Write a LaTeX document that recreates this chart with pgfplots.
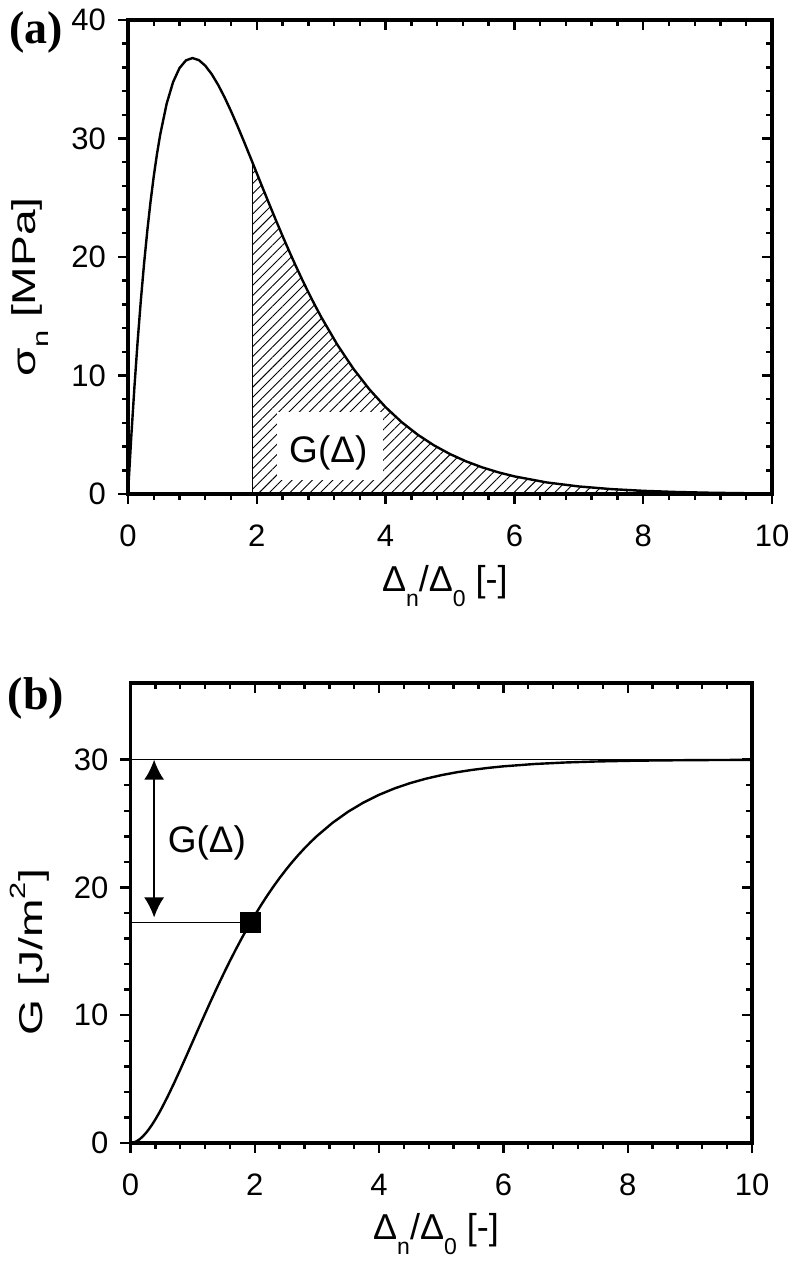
\documentclass[border=0pt]{standalone}
\usepackage{fontspec}
\setmainfont{Liberation Sans}
\newfontfamily\panelfont{Liberation Serif}
\newfontfamily\ylabfont[FakeStretch=1.4]{Liberation Sans}
\usepackage{pgfplots}
\pgfplotsset{compat=1.18}
\usetikzlibrary{patterns.meta,arrows.meta}
\newcommand{\sub}[1]{\raisebox{-7.5pt}{\fontsize{11.5}{12}\selectfont #1}}
\newcommand{\ysub}[1]{\raisebox{-6.5pt}{\fontsize{11}{12}\selectfont #1}}
\newcommand{\ysup}[1]{\raisebox{8.5pt}{\fontsize{11}{12}\selectfont #1}}

\pgfplotsset{
  base/.style={
    scale only axis, anchor=south west, clip=false,
    xmin=0, xmax=10, xtick={0,2,...,10}, minor x tick num=4,
    minor y tick num=4,
    axis line style={line width=1.6pt},
    major tick length=5pt, minor tick length=3pt,
    every tick/.style={line width=1.2pt, black},
    tick label style={font=\fontsize{15.5}{18}\selectfont},
    xticklabel style={yshift=-7pt},
    yticklabel style={xshift=-2.5pt},
    /pgf/number format/assume math mode=true,
    xlabel style={font=\fontsize{18}{20}\selectfont},
    ylabel style={font=\ylabfont\fontsize{16.5}{20}\selectfont},
  },
}

\begin{document}
\begin{tikzpicture}
\path[use as bounding box] (0,0) rectangle (395pt,-630.5pt);

% ---------------- panel (a)
\begin{axis}[base, at={(64pt,-247pt)}, width=322pt, height=237pt,
  ymin=0, ymax=40, ytick={0,10,...,40},
  tick pos=left, tick align=outside,
  xlabel={Δ\sub{n}/Δ\sub{0} [-]},
  ylabel={σ\ysub{n} [MPa]},
  xlabel style={at={(axis description cs:0.492,-0.194)}, anchor=center},
  ylabel style={at={(axis description cs:-0.152,0.437)}, anchor=center},
]
\addplot[draw=none, pattern={Lines[angle=45,distance=3.6pt,line width=0.45pt]}] coordinates {
(1.93,0) (1.93,28.014) (2.0,27.067) (2.1,25.716) (2.2,24.377) (2.3,23.060) (2.4,21.772)
(2.5,20.521) (2.6,19.311) (2.7,18.146) (2.8,17.027) (2.9,15.957) (3.0,14.936)
(3.25,12.602) (3.5,10.569) (3.75,8.819) (4.0,7.326) (4.25,6.062) (4.5,4.999)
(4.75,4.110) (5.0,3.369) (5.25,2.755) (5.5,2.248) (5.75,1.830) (6.0,1.487)
(6.5,0.977) (7.0,0.638) (7.5,0.415) (8.0,0.268) (8.5,0.173) (9.0,0.111)
(9.5,0.071) (10.0,0.045) (10.0,0)} -- cycle;
\fill[white] (axis cs:2.31,1.18) rectangle (axis cs:3.96,6.92);
\node[font=\fontsize{18.5}{22}\selectfont] at (axis cs:3.11,3.45) {G(Δ)};
\addplot[line width=0.6pt] coordinates {(1.93,0) (1.93,28.014)};
\addplot[line width=1.2pt] coordinates {
(0,0) (0.05,4.756) (0.1,9.048) (0.15,12.911) (0.2,16.375) (0.25,19.470) (0.3,22.225)
(0.35,24.664) (0.4,26.813) (0.45,28.693) (0.5,30.327) (0.6,32.929) (0.7,34.761)
(0.8,35.946) (0.9,36.591) (1.0,36.788) (1.1,36.616) (1.2,36.143) (1.3,35.429)
(1.4,34.524) (1.5,33.470) (1.6,32.304) (1.7,31.056) (1.8,29.754) (1.9,28.418)
(2.0,27.067) (2.1,25.716) (2.2,24.377) (2.3,23.060) (2.4,21.772) (2.5,20.521)
(2.6,19.311) (2.7,18.146) (2.8,17.027) (2.9,15.957) (3.0,14.936) (3.25,12.602)
(3.5,10.569) (3.75,8.819) (4.0,7.326) (4.25,6.062) (4.5,4.999) (4.75,4.110)
(5.0,3.369) (5.25,2.755) (5.5,2.248) (5.75,1.830) (6.0,1.487) (6.5,0.977)
(7.0,0.638) (7.5,0.415) (8.0,0.268) (8.5,0.173) (9.0,0.111) (9.5,0.071) (10.0,0.045)};
\end{axis}
\begin{axis}[base, at={(64pt,-247pt)}, width=322pt, height=237pt,
  ymin=0, ymax=40, ytick={0,10,...,40},
  tick pos=right, tick align=inside,
  xticklabels={}, yticklabels={}, axis line style={draw=none}]
\end{axis}

% ---------------- panel (b)
\begin{axis}[base, at={(65.25pt,-571.5pt)}, width=310.75pt, height=230pt,
  ymin=0, ymax=36, ytick={0,10,20,30},
  tick pos=left, tick align=outside,
  xlabel={Δ\sub{n}/Δ\sub{0} [-]},
  ylabel={G [J/m\ysup{2}]},
  xlabel style={at={(axis description cs:0.4916,-0.197)}, anchor=center},
  ylabel style={at={(axis description cs:-0.1617,0.415)}, anchor=center},
]
\addplot[line width=0.6pt] coordinates {(0,30) (10,30)};
\addplot[line width=0.6pt] coordinates {(0,17.241) (1.93,17.241)};
\draw[line width=0.9pt, {Latex[length=10pt,width=10pt]}-{Latex[length=10pt,width=10pt]}]
  (axis cs:0.38,30) -- (axis cs:0.38,17.65);
\node[font=\fontsize{18.5}{22}\selectfont] at (axis cs:1.23,23.5) {G(Δ)};
\addplot[line width=1.2pt] coordinates {
(0,0) (0.05,0.0363) (0.1,0.1404) (0.15,0.3056) (0.2,0.5257) (0.25,0.795) (0.3,1.1081)
(0.35,1.4601) (0.4,1.8466) (0.45,2.2632) (0.5,2.7061) (0.6,3.6570) (0.7,4.6742)
(0.8,5.7362) (0.9,6.8255) (1.0,7.9273) (1.1,9.0291) (1.2,10.1212) (1.3,11.1953)
(1.4,12.2450) (1.5,13.2653) (1.6,14.2520) (1.7,15.2026) (1.8,16.1149) (1.9,16.9875)
(2.0,17.8199) (2.1,18.6116) (2.2,19.3629) (2.3,20.0744) (2.4,20.7468) (2.5,21.3811)
(2.6,21.9784) (2.7,22.5401) (2.8,23.0677) (2.9,23.5623) (3.0,24.0256) (3.25,25.0563)
(3.5,25.9234) (3.75,26.6487) (4.0,27.2526) (4.25,27.7534) (4.5,28.167) (4.75,28.5075)
(5.0,28.7872) (5.25,29.016) (5.5,29.2030) (5.75,29.3554) (6.0,29.4794) (6.5,29.6618)
(7.0,29.7811) (7.5,29.8590) (8.0,29.9096) (8.5,29.942) (9.0,29.963) (9.5,29.976) (10.0,29.985)};
\addplot[only marks, mark=square*, mark size=5pt] coordinates {(1.93,17.241)};
\end{axis}
\begin{axis}[base, at={(65.25pt,-571.5pt)}, width=310.75pt, height=230pt,
  ymin=0, ymax=36, ytick={0,10,20,30},
  tick pos=right, tick align=inside,
  xticklabels={}, yticklabels={}, axis line style={draw=none}]
\end{axis}

\node[font=\panelfont\bfseries\fontsize{23}{26}\selectfont] at (18pt,-16pt) {(a)};
\node[font=\panelfont\bfseries\fontsize{23}{26}\selectfont] at (18pt,-349pt) {(b)};
\end{tikzpicture}
\end{document}
